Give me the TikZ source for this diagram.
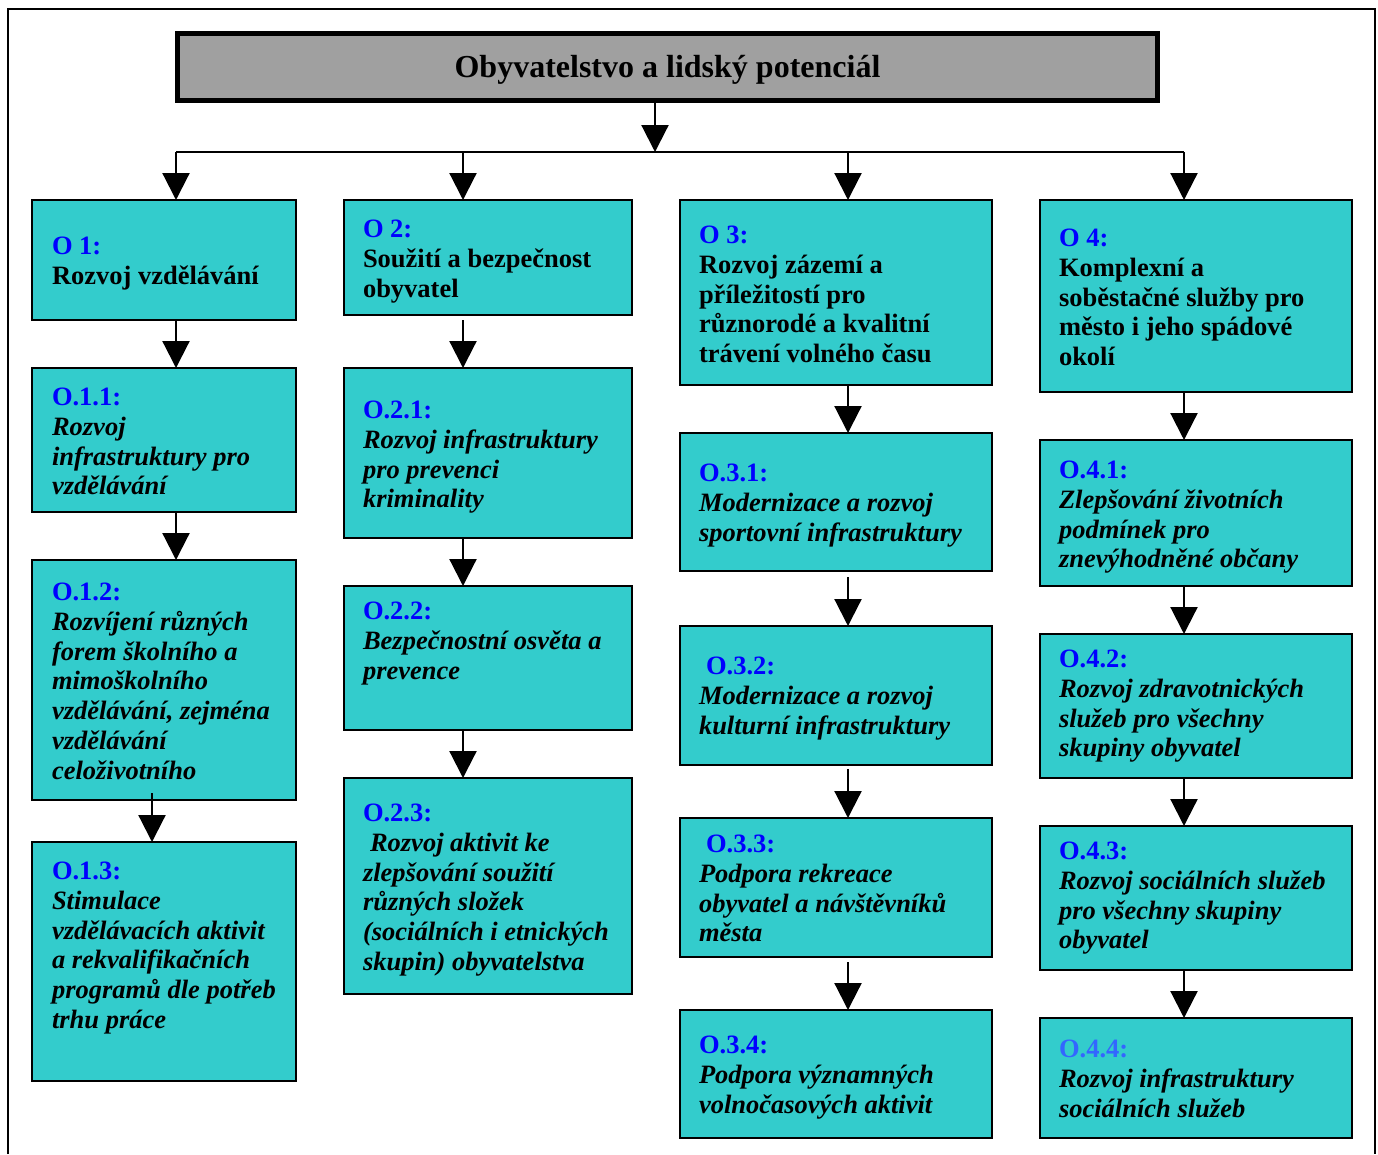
\documentclass[tikz,border=0pt]{standalone}
\usepackage{fontspec}
\setmainfont{Liberation Serif}
\usetikzlibrary{arrows.meta,calc}
\definecolor{boxteal}{RGB}{51,204,204}
\definecolor{titlegray}{RGB}{160,160,160}
\definecolor{oblue}{RGB}{0,0,255}
\definecolor{lblue}{RGB}{51,102,255}
\newcommand{\olab}[2][oblue]{\strut\textcolor{#1}{\upshape #2}}
\begin{document}
\begin{tikzpicture}[x=1pt,y=-1pt,
  box/.style={draw=black, line width=1.8pt, fill=boxteal, inner sep=0pt, outer sep=0pt, anchor=north west},
  txt/.style={anchor=north west, inner sep=0pt, outer sep=0pt, align=left, font=\fontsize{26.5}{29.7}\selectfont\bfseries},
  itxt/.style={txt, font=\fontsize{26.5}{29.7}\selectfont\bfseries\itshape},
  arr/.style={line width=2.2pt, -{Triangle[width=27pt,length=27pt]}},
]
\useasboundingbox (0,0) rectangle (1378,1154);
\fill[white] (0,0) rectangle (1378,1154);
\draw[line width=2pt] (8,1154) -- (8,9) -- (1375,9) -- (1375,1154);

% title
\node[draw=black, line width=5pt, fill=titlegray, minimum width=980pt, minimum height=67pt,
      anchor=north west, inner sep=0pt, outer sep=0pt] (title) at (177.5,33.5) {};
\node[inner sep=0pt, font=\fontsize{32}{38}\selectfont\bfseries] (titletext) at (667.5,70)
      {Obyvatelstvo a lidský potenciál};

% boxes column 1
\node[box, minimum width=264pt, minimum height=120pt] (o1)  at (32,200) {};
\node[box, minimum width=264pt, minimum height=144pt] (o11) at (32,368) {};
\node[box, minimum width=264pt, minimum height=240pt] (o12) at (32,560) {};
\node[box, minimum width=264pt, minimum height=239pt] (o13) at (32,842) {};
% column 2
\node[box, minimum width=288pt, minimum height=115pt] (o2)  at (344,200) {};
\node[box, minimum width=288pt, minimum height=170pt] (o21) at (344,368) {};
\node[box, minimum width=288pt, minimum height=144pt] (o22) at (344,586) {};
\node[box, minimum width=288pt, minimum height=216pt] (o23) at (344,778) {};
% column 3
\node[box, minimum width=312pt, minimum height=185pt] (o3)  at (680,200) {};
\node[box, minimum width=312pt, minimum height=138pt] (o31) at (680,433) {};
\node[box, minimum width=312pt, minimum height=139pt] (o32) at (680,626) {};
\node[box, minimum width=312pt, minimum height=139pt] (o33) at (680,818) {};
\node[box, minimum width=312pt, minimum height=128pt] (o34) at (680,1010) {};
% column 4
\node[box, minimum width=312pt, minimum height=192pt] (o4)  at (1040,200) {};
\node[box, minimum width=312pt, minimum height=146pt] (o41) at (1040,440) {};
\node[box, minimum width=312pt, minimum height=144pt] (o42) at (1040,634) {};
\node[box, minimum width=312pt, minimum height=144pt] (o43) at (1040,826) {};
\node[box, minimum width=312pt, minimum height=120pt] (o44) at (1040,1018) {};

% texts
\node[txt] (t1) at (52,234) {\olab{O 1:}\\Rozvoj vzdělávání};
\node[itxt] (t11) at (52,385) {\olab{O.1.1:}\\Rozvoj\\infrastruktury pro\\vzdělávání};
\node[itxt] (t12) at (52,580) {\olab{O.1.2:}\\Rozvíjení různých\\forem školního a\\mimoškolního\\vzdělávání, zejména\\vzdělávání\\celoživotního};
\node[itxt] (t13) at (52,859) {\olab{O.1.3:}\\Stimulace\\vzdělávacích aktivit\\a rekvalifikačních\\programů dle potřeb\\trhu práce};

\node[txt] (t2) at (363,217) {\olab{O 2:}\\Soužití a bezpečnost\\obyvatel};
\node[itxt] (t21) at (363,398) {\olab{O.2.1:}\\Rozvoj infrastruktury\\pro prevenci\\kriminality};
\node[itxt] (t22) at (363,599) {\olab{O.2.2:}\\Bezpečnostní osvěta a\\prevence};
\node[itxt] (t23) at (363,801) {\olab{O.2.3:}\\\hspace*{7pt}Rozvoj aktivit ke\\zlepšování soužití\\různých složek\\(sociálních i etnických\\skupin) obyvatelstva};

\node[txt] (t3) at (699,223) {\olab{O 3:}\\Rozvoj zázemí a\\příležitostí pro\\různorodé a kvalitní\\trávení volného času};
\node[itxt] (t31) at (699,461) {\olab{O.3.1:}\\Modernizace a rozvoj\\sportovní infrastruktury};
\node[itxt] (t32) at (699,654) {\hspace*{7pt}\olab{O.3.2:}\\Modernizace a rozvoj\\kulturní infrastruktury};
\node[itxt] (t33) at (699,832) {\hspace*{7pt}\olab{O.3.3:}\\Podpora rekreace\\obyvatel a návštěvníků\\města};
\node[itxt] (t34) at (699,1033) {\olab{O.3.4:}\\Podpora významných\\volnočasových aktivit};

\node[txt] (t4) at (1059,226) {\olab{O 4:}\\Komplexní a\\soběstačné služby pro\\město i jeho spádové\\okolí};
\node[itxt] (t41) at (1059,458) {\olab{O.4.1:}\\Zlepšování životních\\podmínek pro\\znevýhodněné občany};
\node[itxt] (t42) at (1059,647) {\olab{O.4.2:}\\Rozvoj zdravotnických\\služeb pro všechny\\skupiny obyvatel};
\node[itxt] (t43) at (1059,839) {\olab{O.4.3:}\\Rozvoj sociálních služeb\\pro všechny skupiny\\obyvatel};
\node[itxt] (t44) at (1059,1037) {\olab[lblue]{O.4.4:}\\Rozvoj infrastruktury\\sociálních služeb};

% connectors
\coordinate (hub) at (655,152);
\coordinate (c1) at (176,152);
\coordinate (c2) at (463,152);
\coordinate (c3) at (848,152);
\coordinate (c4) at (1184,152);
\draw[arr] (title.south -| hub) -- (hub);
\draw[line width=2pt] (c1) -- (c4);
\draw[arr] (c1) -- (c1 |- o1.north);
\draw[arr] (c2) -- (c2 |- o2.north);
\draw[arr] (c3) -- (c3 |- o3.north);
\draw[arr] (c4) -- (c4 |- o4.north);

\draw[arr] (o1.south -| c1) -- (o11.north -| c1);
\draw[arr] (o11.south -| c1) -- (o12.north -| c1);
\coordinate (k1) at (152,793);
\draw[arr] (k1) -- (k1 |- o13.north);

\draw[arr] ($(o2.south -| c2)+(0,5)$) -- (o21.north -| c2);
\draw[arr] (o21.south -| c2) -- (o22.north -| c2);
\draw[arr] (o22.south -| c2) -- (o23.north -| c2);

\draw[arr] (o3.south -| c3) -- (o31.north -| c3);
\draw[arr] ($(o31.south -| c3)+(0,6)$) -- (o32.north -| c3);
\draw[arr] ($(o32.south -| c3)+(0,4)$) -- (o33.north -| c3);
\draw[arr] ($(o33.south -| c3)+(0,5)$) -- (o34.north -| c3);

\draw[arr] (o4.south -| c4) -- (o41.north -| c4);
\draw[arr] (o41.south -| c4) -- (o42.north -| c4);
\draw[arr] (o42.south -| c4) -- (o43.north -| c4);
\draw[arr] (o43.south -| c4) -- (o44.north -| c4);
\end{tikzpicture}
\end{document}
